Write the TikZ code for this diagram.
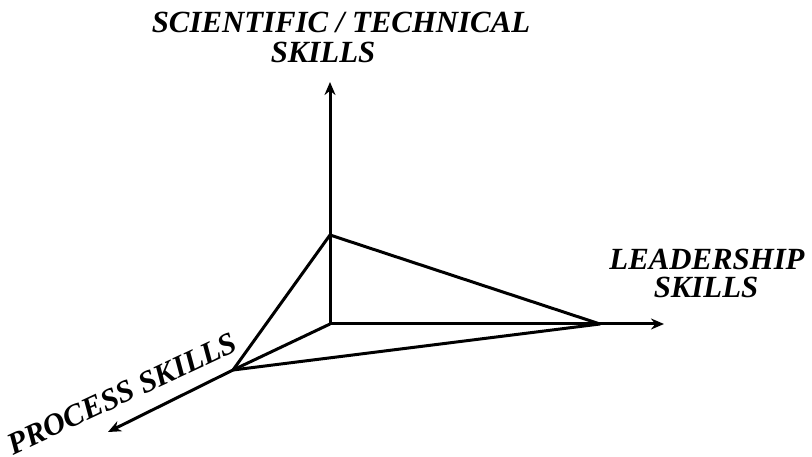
\documentclass[tikz,border=0pt]{standalone}
\usepackage{fontspec}
\setmainfont{Liberation Serif}
\usetikzlibrary{arrows.meta}
\begin{document}
\begin{tikzpicture}[x=1pt,y=-1pt,
  axis/.style={line width=3pt,-{Stealth[length=13pt,width=11pt]}},
  edge/.style={line width=3pt,line join=round},
  lbl/.style={font=\fontsize{30.8}{33}\selectfont\bfseries\itshape,inner sep=0pt,anchor=base}]
\useasboundingbox (0,0) rectangle (812,457);
\coordinate (O) at (330,324);
\coordinate (T) at (330,235);
\coordinate (R) at (600,324);
\coordinate (L) at (233,370);
\coordinate (Ttip) at (330,82);
\coordinate (Rtip) at (664,324);
\coordinate (Ltip) at (108,432);
\draw[axis] (O) -- (Ttip);
\draw[axis] (O) -- (Rtip);
\draw[axis] (L) -- (Ltip);
\draw[edge] (O) -- (L);
\draw[edge] (T) -- (R) -- (L) -- cycle;
\node[lbl] (s1) at (341,33) {SCIENTIFIC / TECHNICAL};
\node[lbl] (s2) at (323,63) {SKILLS};
\node[lbl] (l1) at (707,270) {LEADERSHIP};
\node[lbl] (l2) at (706,298) {SKILLS};
\node[lbl,rotate=25] (p1) at (126,403) {PROCESS SKILLS};
\end{tikzpicture}
\end{document}
